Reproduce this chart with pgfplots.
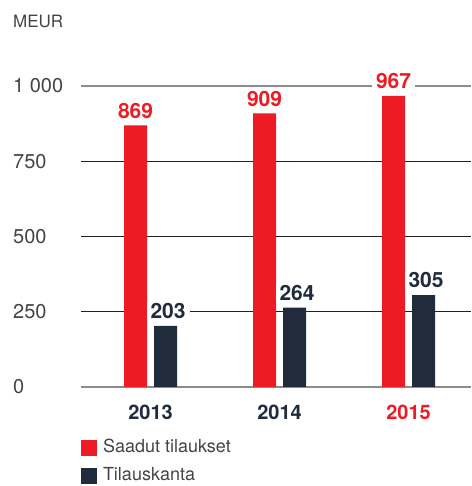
\documentclass[border=0pt]{standalone}
\usepackage{pgfplots}
\pgfplotsset{compat=1.18}
\usepackage{fontspec}
\setmainfont{TeX Gyre Heros}
\definecolor{fred}{HTML}{ED1C24}
\definecolor{fnavy}{HTML}{202C3C}
\definecolor{ftick}{HTML}{444444}
\definecolor{fgrid}{HTML}{222222}
\definecolor{fgray}{HTML}{8C8C8C}
\begin{document}
\begin{tikzpicture}
\useasboundingbox (0,0) rectangle (471pt,486pt);
\node[anchor=west, inner sep=0pt, text=ftick, font=\fontsize{17}{20}\selectfont] at (13pt,465pt) {MEUR};
\begin{axis}[
  at={(81pt,99pt)}, anchor=south west,
  scale only axis, width=390pt, height=301pt,
  xmin=-0.539, xmax=2.484, ymin=0, ymax=1000,
  enlargelimits=false, clip=false,
  axis line style={draw=none}, major tick length=0pt,
  /pgf/number format/assume math mode=true,
  ytick={250,500,750}, yticklabels={250,500,750},
  extra y ticks={0,1000}, extra y tick labels={0,1 000},
  extra y tick style={grid style={fgray, line width=1.5pt}},
  ymajorgrids, grid style={fgrid, line width=0.8pt},
  yticklabel style={anchor=west, inner sep=0pt, xshift=-68pt, text=ftick, font=\fontsize{20}{24}\selectfont},
  xtick={0,1,2}, xticklabels={2013,2014,{\textcolor{fred}{2015}}},
  xticklabel style={anchor=north, inner sep=0pt, yshift=-18pt, text=fnavy, font=\bfseries\fontsize{20}{24}\selectfont},
  ybar, bar width=23pt,
  nodes near coords,
  every node near coord/.append style={font=\bfseries\fontsize{21}{24}\selectfont, fill=white, inner xsep=4pt, inner ysep=1pt, text depth=0pt, anchor=south, yshift=6pt},
  legend cell align=left,
  legend style={at={(0,-0.176)}, anchor=north west, draw=none, fill=none, inner sep=0pt, outer sep=0pt,
    font=\fontsize{18}{22}\selectfont, text=ftick, row sep=11pt, column sep=6pt,
    nodes={inner sep=0pt, text height=13pt, text depth=4pt}},
  legend image code/.code={\fill[#1] (0pt,-8pt) rectangle (16pt,8pt);},
]
\addplot[fill=fred, draw=none, bar shift=-15pt, every node near coord/.append style={text=fred}]
  coordinates {(0,869) (1,909) (2,967)};
\addplot[fill=fnavy, draw=none, bar shift=15pt, every node near coord/.append style={text=fnavy, xshift=2.5pt}]
  coordinates {(0,203) (1,264) (2,305)};
\legend{Saadut tilaukset, Tilauskanta}
\end{axis}
\end{tikzpicture}
\end{document}
